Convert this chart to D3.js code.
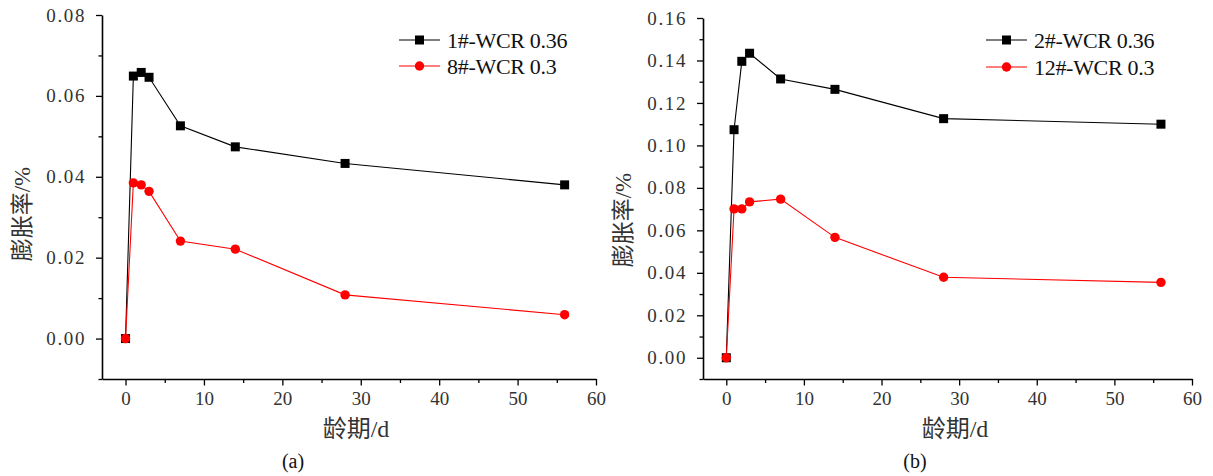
<!DOCTYPE html>
<html>
<head>
<meta charset="utf-8">
<script src="https://cdn.jsdelivr.net/npm/d3@7"></script>
<style>
  html, body { margin: 0; padding: 0; background: #fff; }
  svg { display: block; }
</style>
</head>
<body>
<div id="chart"></div>
<script>
// ages in days (shared x values)
const ages = [0, 1, 2, 3, 7, 14, 28, 56];

// panel (a)
const seriesA1 = [0, 0.0649, 0.0658, 0.0646, 0.0526, 0.0474, 0.0433, 0.0380];
const seriesA2 = [0, 0.0385, 0.0380, 0.0364, 0.0241, 0.0221, 0.0108, 0.0059];
const namesA = ["1#-WCR 0.36", "8#-WCR 0.3"];

// panel (b)
const seriesB1 = [0, 0.1074, 0.1396, 0.1434, 0.1313, 0.1264, 0.1126, 0.1100];
const seriesB2 = [0, 0.0701, 0.0701, 0.0734, 0.0747, 0.0567, 0.0379, 0.0355];
const namesB = ["2#-WCR 0.36", "12#-WCR 0.3"];

const xTicks = [0, 10, 20, 30, 40, 50, 60];
const yTicksA = [0, 0.02, 0.04, 0.06, 0.08];
const yTicksB = [0, 0.02, 0.04, 0.06, 0.08, 0.10, 0.12, 0.14, 0.16];

const W = 1213, H = 476;
const svg = d3.select("#chart").append("svg")
  .attr("width", W)
  .attr("height", H)
  .style("background", "#fff");

const serif = "Liberation Serif, Times New Roman, serif";
const cjk = "Liberation Serif, Noto Sans CJK SC, serif";

function drawPanel(cfg) {
  const xScale = d3.scaleLinear().domain([-3, 60]).range([cfg.left, cfg.right]);
  const yScale = d3.scaleLinear().domain(cfg.yDomain).range([cfg.bottom, cfg.top]);

  const g = svg.append("g");

  // minor ticks
  const xMinor = d3.range(5, 60, 10);
  g.append("g")
    .attr("transform", `translate(0,${cfg.bottom})`)
    .call(d3.axisBottom(xScale).tickValues(xMinor).tickSize(4).tickFormat(""))
    .call(s => s.select(".domain").remove())
    .selectAll("line").attr("stroke", "#000").attr("stroke-width", 1.3);

  const yMinor = d3.range(cfg.yDomain[0], cfg.yDomain[1] + 0.0001, 0.01)
    .filter(v => Math.abs(Math.round(v * 100) % 2) === 1);
  g.append("g")
    .attr("transform", `translate(${cfg.left},0)`)
    .call(d3.axisLeft(yScale).tickValues(yMinor).tickSize(3.5).tickFormat(""))
    .call(s => s.select(".domain").remove())
    .selectAll("line").attr("stroke", "#000").attr("stroke-width", 1.3);

  // x axis
  const xAxis = g.append("g")
    .attr("transform", `translate(0,${cfg.bottom})`)
    .attr("font-family", serif)
    .attr("font-size", 19)
    .call(d3.axisBottom(xScale).tickValues(xTicks).tickSize(6.5).tickSizeOuter(0).tickPadding(6));
  xAxis.attr("font-family", serif).attr("font-size", 19);
  xAxis.select(".domain").attr("stroke", "#000").attr("stroke-width", 1.6);
  xAxis.selectAll(".tick line").attr("stroke", "#000").attr("stroke-width", 1.3);
  xAxis.selectAll("text").attr("fill", "#333");

  // y axis
  const yAxis = g.append("g")
    .attr("transform", `translate(${cfg.left},0)`)
    .call(d3.axisLeft(yScale).tickValues(cfg.yTicks).tickSize(6).tickSizeOuter(0)
      .tickPadding(10).tickFormat(d3.format(".2f")));
  yAxis.attr("font-family", serif).attr("font-size", 19);
  yAxis.select(".domain").attr("stroke", "#000").attr("stroke-width", 1.6);
  yAxis.selectAll(".tick line").attr("stroke", "#000").attr("stroke-width", 1.3);
  yAxis.selectAll("text")
    .attr("fill", "#333")
    .attr("letter-spacing", 1.6);

  // axis titles
  g.append("text")
    .attr("transform", `translate(${cfg.yLabelX},${cfg.yLabelY}) rotate(-90)`)
    .attr("text-anchor", "middle")
    .attr("dominant-baseline", "central")
    .attr("fill", "#333")
    .attr("font-family", cjk)
    .attr("font-size", 23)
    .text("膨胀率/%");

  g.append("text")
    .attr("x", cfg.xLabelX)
    .attr("y", 437)
    .attr("text-anchor", "middle")
    .attr("fill", "#333")
    .attr("font-family", cjk)
    .attr("font-size", 24)
    .text("龄期/d");

  g.append("text")
    .attr("x", cfg.capX)
    .attr("y", 468)
    .attr("text-anchor", "middle")
    .attr("fill", "#111")
    .attr("font-family", serif)
    .attr("font-size", 20)
    .text(cfg.caption);

  // lines
  const line = d3.line()
    .x((d, i) => xScale(ages[i]))
    .y(d => yScale(d));

  g.append("path")
    .datum(cfg.s1)
    .attr("fill", "none")
    .attr("stroke", "#000")
    .attr("stroke-width", 1.1)
    .attr("d", line);

  g.append("path")
    .datum(cfg.s2)
    .attr("fill", "none")
    .attr("stroke", "#ff0000")
    .attr("stroke-width", 1.1)
    .attr("d", line);

  // markers
  g.selectAll(".sq")
    .data(cfg.s1)
    .enter().append("rect")
    .attr("class", "sq")
    .attr("x", (d, i) => xScale(ages[i]) - 4.5)
    .attr("y", d => yScale(d) - 4.5)
    .attr("width", 9)
    .attr("height", 9)
    .attr("fill", "#000");

  g.selectAll(".dot")
    .data(cfg.s2)
    .enter().append("circle")
    .attr("class", "dot")
    .attr("cx", (d, i) => xScale(ages[i]))
    .attr("cy", d => yScale(d))
    .attr("r", 4.7)
    .attr("fill", "#ff0000");

  // legend
  const lg = g.append("g").attr("transform", `translate(${cfg.legX},${cfg.legY})`);
  const rows = [
    { name: cfg.names[0], color: "#000", shape: "square", dy: 0 },
    { name: cfg.names[1], color: "#ff0000", shape: "circle", dy: cfg.legGap }
  ];
  rows.forEach(r => {
    lg.append("line")
      .attr("x1", 0).attr("x2", 41)
      .attr("y1", r.dy).attr("y2", r.dy)
      .attr("stroke", r.color)
      .attr("stroke-width", 1.1);
    if (r.shape === "square") {
      lg.append("rect")
        .attr("x", 20.5 - 4.5).attr("y", r.dy - 4.5)
        .attr("width", 9).attr("height", 9)
        .attr("fill", r.color);
    } else {
      lg.append("circle")
        .attr("cx", 20.5).attr("cy", r.dy)
        .attr("r", 4.7)
        .attr("fill", r.color);
    }
    lg.append("text")
      .attr("x", 48)
      .attr("y", r.dy + 8)
      .attr("fill", "#111")
      .attr("font-family", serif)
      .attr("font-size", 22)
      .attr("letter-spacing", -0.3)
      .text(r.name);
  });
}

drawPanel({
  left: 102, right: 596, top: 15, bottom: 379,
  yDomain: [-0.01, 0.08], yTicks: yTicksA,
  s1: seriesA1, s2: seriesA2, names: namesA,
  yLabelX: 22, yLabelY: 214, xLabelX: 356, capX: 293, caption: "(a)",
  legX: 399, legY: 40, legGap: 26
});

drawPanel({
  left: 703, right: 1192, top: 18, bottom: 379,
  yDomain: [-0.01, 0.16], yTicks: yTicksB,
  s1: seriesB1, s2: seriesB2, names: namesB,
  yLabelX: 623, yLabelY: 220, xLabelX: 955, capX: 915, caption: "(b)",
  legX: 986, legY: 40, legGap: 27
});
</script>
</body>
</html>
